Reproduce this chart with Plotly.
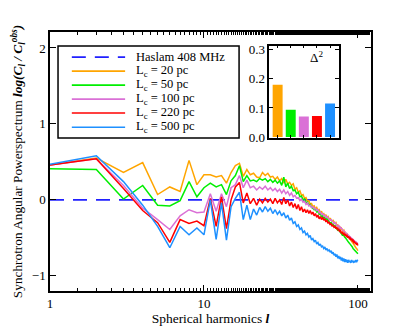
import plotly.graph_objects as go

ell = list(range(1, 101))

lc_20 = [0.46, 0.55, 0.36, 0.49, 0.07, 0.17, 0.11, 0.52, 0.20, 0.33,
         0.33, 0.30, 0.32, 0.22, 0.36, 0.45, 0.48, 0.31, 0.40, 0.33,
         0.35, 0.30, 0.29, 0.36, 0.32, 0.35, 0.30, 0.31, 0.27, 0.30,
         0.25, 0.28, 0.22, 0.27, 0.21, 0.23, 0.19, 0.21, 0.14, 0.16,
         0.10, 0.12, 0.06, 0.07, 0.02, 0.03, -0.02, -0.01, -0.06, -0.05,
         -0.09, -0.08, -0.12, -0.10, -0.14, -0.13, -0.17, -0.15, -0.19, -0.18,
         -0.21, -0.20, -0.23, -0.22, -0.26, -0.24, -0.27, -0.28, -0.27, -0.30,
         -0.31, -0.30, -0.34, -0.33, -0.36, -0.35, -0.38, -0.37, -0.40, -0.41,
         -0.40, -0.44, -0.43, -0.46, -0.45, -0.48, -0.49, -0.50, -0.52, -0.53,
         -0.54, -0.56, -0.57, -0.59, -0.60, -0.61, -0.63, -0.64, -0.66, -0.67]

lc_50 = [0.41, 0.40, 0.01, 0.19, -0.07, -0.08, -0.01, 0.24, 0.04, 0.16,
         0.22, 0.17, 0.20, 0.07, 0.25, 0.32, 0.45, 0.24, 0.32, 0.25,
         0.26, 0.24, 0.28, 0.26, 0.28, 0.24, 0.27, 0.23, 0.26, 0.22,
         0.25, 0.19, 0.30, 0.17, 0.22, 0.15, 0.18, 0.12, 0.13, 0.08,
         0.10, 0.04, 0.05, 0.00, 0.01, -0.04, -0.03, -0.07, -0.06, -0.10,
         -0.11, -0.13, -0.12, -0.16, -0.15, -0.19, -0.18, -0.22, -0.21, -0.24,
         -0.23, -0.26, -0.25, -0.28, -0.29, -0.31, -0.30, -0.33, -0.32, -0.35,
         -0.34, -0.37, -0.38, -0.40, -0.39, -0.42, -0.43, -0.44, -0.46, -0.45,
         -0.48, -0.49, -0.50, -0.52, -0.53, -0.54, -0.56, -0.57, -0.58, -0.60,
         -0.61, -0.62, -0.64, -0.65, -0.66, -0.67, -0.68, -0.69, -0.70, -0.71]

lc_100 = [0.46, 0.54, 0.19, -0.11, -0.26, -0.39, -0.21, -0.13, -0.17, -0.16,
          0.08, -0.15, 0.08, -0.09, 0.16, 0.20, 0.32, 0.16, 0.26, 0.16,
          0.18, 0.13, 0.17, 0.14, 0.18, 0.13, 0.16, 0.12, 0.15, 0.11,
          0.14, 0.09, 0.13, 0.08, 0.11, 0.06, 0.09, 0.04, 0.06, 0.02,
          0.03, -0.01, 0.01, -0.03, -0.02, -0.06, -0.04, -0.08, -0.07, -0.10,
          -0.09, -0.12, -0.11, -0.14, -0.13, -0.17, -0.16, -0.19, -0.18, -0.21,
          -0.20, -0.23, -0.22, -0.24, -0.25, -0.27, -0.26, -0.28, -0.29, -0.31,
          -0.30, -0.32, -0.33, -0.35, -0.34, -0.37, -0.36, -0.38, -0.39, -0.40,
          -0.41, -0.42, -0.43, -0.44, -0.45, -0.46, -0.47, -0.48, -0.49, -0.50,
          -0.51, -0.52, -0.53, -0.53, -0.54, -0.55, -0.55, -0.56, -0.57, -0.58]

lc_220 = [0.46, 0.54, 0.15, -0.14, -0.30, -0.56, -0.26, -0.31, -0.28, -0.34,
          0.02, -0.35, 0.04, -0.38, 0.00, 0.17, 0.23, -0.04, 0.09, -0.05,
          0.02, -0.07, 0.01, -0.04, 0.02, -0.03, 0.01, -0.05, 0.02, -0.04,
          0.00, -0.06, 0.03, -0.05, 0.00, -0.08, -0.03, -0.10, -0.05, -0.12,
          -0.06, -0.14, -0.09, -0.16, -0.12, -0.17, -0.13, -0.18, -0.14, -0.19,
          -0.16, -0.21, -0.18, -0.23, -0.20, -0.25, -0.22, -0.26, -0.23, -0.27,
          -0.25, -0.29, -0.27, -0.31, -0.29, -0.33, -0.31, -0.35, -0.33, -0.36,
          -0.35, -0.38, -0.36, -0.40, -0.38, -0.42, -0.40, -0.44, -0.42, -0.45,
          -0.44, -0.47, -0.45, -0.48, -0.47, -0.50, -0.48, -0.51, -0.50, -0.53,
          -0.51, -0.54, -0.53, -0.56, -0.55, -0.57, -0.56, -0.59, -0.58, -0.60]

lc_500 = [0.47, 0.58, 0.24, -0.07, -0.35, -0.63, -0.35, -0.46, -0.37, -0.46,
          0.00, -0.52, -0.04, -0.53, -0.09, 0.02, 0.10, -0.26, -0.07, -0.26,
          -0.12, -0.20, -0.10, -0.16, -0.09, -0.15, -0.11, -0.18, -0.13, -0.19,
          -0.15, -0.21, -0.17, -0.24, -0.20, -0.27, -0.24, -0.31, -0.29, -0.35,
          -0.33, -0.39, -0.37, -0.43, -0.41, -0.46, -0.44, -0.49, -0.47, -0.53,
          -0.51, -0.55, -0.53, -0.58, -0.56, -0.60, -0.58, -0.62, -0.61, -0.64,
          -0.62, -0.66, -0.64, -0.67, -0.66, -0.69, -0.67, -0.71, -0.69, -0.73,
          -0.71, -0.75, -0.72, -0.77, -0.74, -0.78, -0.75, -0.80, -0.76, -0.81,
          -0.77, -0.82, -0.78, -0.82, -0.79, -0.83, -0.79, -0.82, -0.80, -0.83,
          -0.79, -0.82, -0.80, -0.83, -0.80, -0.82, -0.79, -0.82, -0.80, -0.79]

haslam_x = [1, 100]
haslam_y = [0, 0]

series_names = ["L<sub>c</sub> = 20 pc", "L<sub>c</sub> = 50 pc", "L<sub>c</sub> = 100 pc",
                "L<sub>c</sub> = 220 pc", "L<sub>c</sub> = 500 pc"]
colors = ["#FFA500", "#00EE00", "#DA70D6", "#FF0000", "#1E90FF"]

delta2 = [0.18, 0.094, 0.071, 0.072, 0.115]

FONT = "Liberation Serif"
HASLAM_COLOR = "#2020FF"
HASLAM_DASH = "14px,9px"

fig = go.Figure()
fig.add_trace(go.Scatter(x=haslam_x, y=haslam_y, mode="lines", name="Haslam 408 MHz",
                         line=dict(color=HASLAM_COLOR, width=1.6, dash=HASLAM_DASH)))
for name, ys, c in zip(series_names, [lc_20, lc_50, lc_100, lc_220, lc_500], colors):
    fig.add_trace(go.Scatter(x=ell, y=ys, mode="lines", name=name,
                             line=dict(color=c, width=1.5)))

fig.add_trace(go.Bar(x=list(range(5)), y=delta2, marker=dict(color=colors, line=dict(width=0)),
                     width=0.76, xaxis="x2", yaxis="y2", showlegend=False))

# hand-made legend box (plotly's own legend rows are too tall for this layout)
leg_names = ["Haslam 408 MHz"] + series_names
leg_colors = [HASLAM_COLOR] + colors
leg_rows = [0.903, 0.849, 0.795, 0.741, 0.687, 0.632]
shapes = [dict(type="rect", xref="paper", yref="paper", x0=0.025, x1=0.589, y0=0.591, y1=0.946,
               line=dict(color="black", width=1.5), fillcolor="white", layer="above")]
annotations = []
for i, (nm, c, yr) in enumerate(zip(leg_names, leg_colors, leg_rows)):
    shapes.append(dict(type="line", xref="paper", yref="paper", x0=0.068, x1=0.234, y0=yr, y1=yr,
                       line=dict(color=c, width=1.6, dash=HASLAM_DASH if i == 0 else "solid"),
                       layer="above"))
    annotations.append(dict(text=nm, x=0.262, y=yr, xref="paper", yref="paper",
                            xanchor="left", yanchor="middle", showarrow=False,
                            font=dict(family=FONT, size=12.5, color="black")))
annotations.append(dict(text="\u0394<sup>2</sup>", x=0.83, y=0.905, xref="paper", yref="paper",
                        xanchor="center", yanchor="middle", showarrow=False,
                        font=dict(family=FONT, size=13, color="black")))

axis_common = dict(showline=True, linecolor="black", linewidth=1.5, mirror="ticks",
                   ticks="inside", tickcolor="black", showgrid=False, zeroline=False,
                   automargin=False,
                   tickfont=dict(family=FONT, size=13, color="black"))

# the page body adds 8px around the figure, so the margins are offset by that
fig.update_layout(
    width=400, height=333,
    margin=dict(l=42, r=37, t=24, b=50),
    paper_bgcolor="white", plot_bgcolor="white",
    font=dict(family=FONT, size=13, color="black"),
    showlegend=False,
    shapes=shapes,
    annotations=annotations,
    xaxis=dict(type="log", range=[0, 2.085], tickvals=[1, 10, 100], ticktext=["1", "10", "100"],
               ticklen=6, tickwidth=1.2,
               minor=dict(ticks="inside", ticklen=3, tickcolor="black", showgrid=False),
               title=dict(text="Spherical harmonics <b><i>l</i></b>", font=dict(family=FONT, size=13.5),
                          standoff=3),
               **axis_common),
    yaxis=dict(range=[-1.2, 2.21], tickvals=[-1, 0, 1, 2], ticktext=["\u22121", "0", "1", "2"],
               ticklen=6, tickwidth=1.2,
               title=dict(text="Synchrotron Angular Powerspectrum <b><i>log(C<sub>l</sub> / C<sub>l</sub><sup>obs</sup>)</i></b>",
                          font=dict(family=FONT, size=13.3), standoff=6),
               **axis_common),
    xaxis2=dict(domain=[0.683, 0.901], anchor="y2", range=[-0.64, 4.7],
                tickvals=[0, 1, 2, 3, 4], showticklabels=False, ticklen=3, tickwidth=1,
                **{k: v for k, v in axis_common.items() if k != "tickfont"}),
    yaxis2=dict(domain=[0.591, 0.947], anchor="x2", range=[-0.003, 0.314],
                tickvals=[0, 0.1, 0.2, 0.3], ticktext=["0.0", "0.1", "0.2", "0.3"],
                ticklen=4, tickwidth=1,
                **axis_common),
)

fig.write_html("out.html")
